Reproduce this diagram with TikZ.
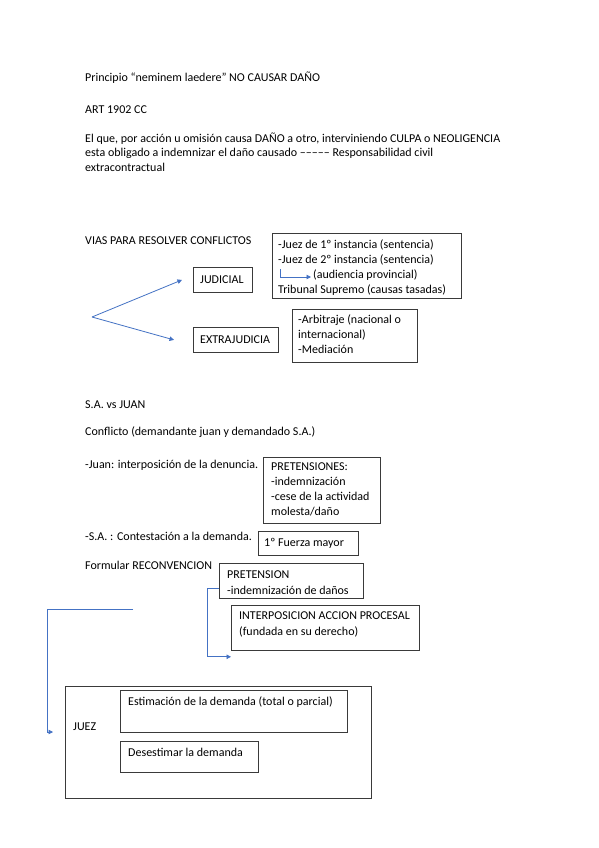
\documentclass[tikz,border=0pt]{standalone}
\usepackage{fontspec}
\setmainfont{Carlito}
\usetikzlibrary{arrows.meta}
\definecolor{boxgray}{HTML}{3A3A3A}
\definecolor{linkblue}{HTML}{4472C4}
\begin{document}
\begin{tikzpicture}[x=1pt,y=-1pt,
  txt/.style={anchor=base west, inner sep=0pt, font=\fontsize{12}{14}\selectfont},
  box/.style={draw=boxgray, line width=0.8pt, inner sep=0pt, anchor=north west},
  conn/.style={draw=linkblue, line width=0.8pt},
  arr/.style={conn, -{Triangle[length=4.5pt,width=4.5pt]}}]
\useasboundingbox (0,0) rectangle (599,848);
\fill[white] (0,0) rectangle (599,848);

% header text
\node[txt] (t1) at (85,81.5) {Principio “neminem laedere” NO CAUSAR DAÑO};
\node[txt] (t2) at (85,113.5) {ART 1902 CC};
\node[txt] (t3) at (85,142.5) {El que, por acción u omisión causa DAÑO a otro, interviniendo CULPA o NEOLIGENCIA};
\node[txt] (t4) at (85,157) {esta obligado a indemnizar el daño causado ––––– Responsabilidad civil};
\node[txt] (t5) at (85,171.5) {extracontractual};

\node[txt] (vias) at (85,244.5) {VIAS PARA RESOLVER CONFLICTOS};

% boxes
\node[box, minimum width=59pt, minimum height=25pt] (judicial) at (193,267) {};
\node[txt] (judt) at (200,283) {JUDICIAL};
\node[box, minimum width=85pt, minimum height=25pt] (extra) at (193,327) {};
\node[txt] (extt) at (200,343.5) {EXTRAJUDICIA};

\node[box, minimum width=189pt, minimum height=65pt] (inst) at (272,233) {};
\node[txt] (i1) at (278,248.5) {-Juez de 1º instancia (sentencia)};
\node[txt] (i2) at (278,263.5) {-Juez de 2º instancia (sentencia)};
\node[txt] (i3) at (313,278) {(audiencia provincial)};
\node[txt] (i4) at (278,293.5) {Tribunal Supremo (causas tasadas)};

\node[box, minimum width=125pt, minimum height=53pt] (arb) at (292,309) {};
\node[txt] (a1) at (298,323.5) {-Arbitraje (nacional o};
\node[txt] (a2) at (298,338.5) {internacional)};
\node[txt] (a3) at (298,353.5) {-Mediación};

% fork arrows
\coordinate (fork) at (92,317);
\draw[arr] (fork) -- ([xshift=-11pt]judicial.west);
\draw[arr] (fork) -- ([xshift=-19pt]extra.west);

% small elbow inside instancias box
\coordinate (e1) at (280,269);
\coordinate (e2) at (311,277);
\draw[arr] (e1) |- (e2);

% second part
\node[txt] (sa) at (85,408.5) {S.A. vs JUAN};
\node[txt] (conf) at (85,435.5) {Conflicto (demandante juan y demandado S.A.)};
\node[txt] (juan) at (85,468.5) {-Juan: interposición de la denuncia.};

\node[box, minimum width=117pt, minimum height=66pt] (pret) at (263,457) {};
\node[txt] (p1) at (271,470.5) {PRETENSIONES:};
\node[txt] (p2) at (271,485.5) {-indemnización};
\node[txt] (p3) at (271,500.5) {-cese de la actividad};
\node[txt] (p4) at (271,515.5) {molesta/daño};

\node[txt] (sacont) at (85,540.5) {-S.A. : Contestación a la demanda.};
\node[box, minimum width=100pt, minimum height=24pt] (fuerza) at (258,531) {};
\node[txt] (ft) at (264,546.5) {1º Fuerza mayor};

\node[txt] (form) at (85,569.5) {Formular RECONVENCION};
\node[box, minimum width=144pt, minimum height=35pt] (pretn) at (219,563) {};
\node[txt] (pn1) at (227,578.5) {PRETENSION};
\node[txt] (pn2) at (227,594) {-indemnización de daños};

\node[box, minimum width=188pt, minimum height=45pt] (interp) at (231,605) {};
\node[txt] (in1) at (239,619.5) {INTERPOSICION ACCION PROCESAL};
\node[txt] (in2) at (239,635.5) {(fundada en su derecho)};

\coordinate (pstart) at (219,588);
\draw[arr] (pstart) -- (207,588) |- ([yshift=-6pt]interp.south west);

% juez
\node[box, minimum width=306pt, minimum height=112pt] (juezbox) at (65,686) {};
\node[txt] (juez) at (73,730.5) {JUEZ};
\node[box, minimum width=227pt, minimum height=42pt] (est) at (120,690) {};
\node[txt] (estt) at (128,705.5) {Estimación de la demanda (total o parcial)};
\node[box, minimum width=138pt, minimum height=31pt] (des) at (120,741) {};
\node[txt] (dest) at (128,756.5) {Desestimar la demanda};

\coordinate (bstart) at (133,609);
\coordinate (bend) at (53,732);
\draw[arr] (bstart) -- (47,609) |- (bend);
\end{tikzpicture}
\end{document}
